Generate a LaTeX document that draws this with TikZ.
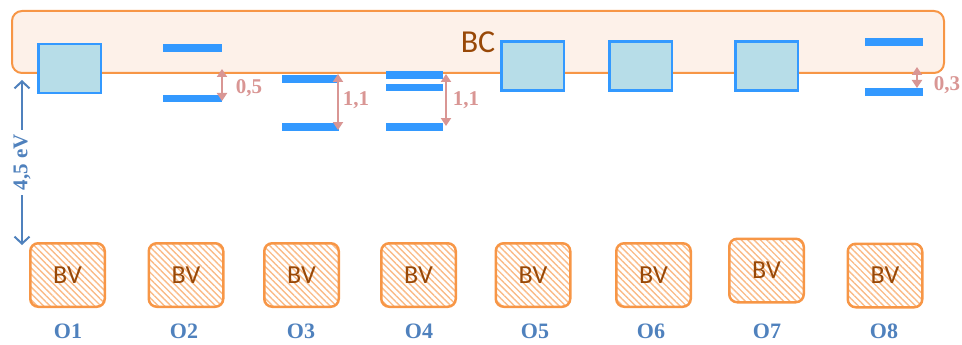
\documentclass[tikz,border=0pt]{standalone}
\usepackage{fontspec}
\setmainfont{Liberation Serif}
\newfontfamily\calib{Carlito}
\usetikzlibrary{arrows.meta,patterns.meta}
\definecolor{orng}{HTML}{F79646}
\definecolor{bcfill}{HTML}{FDF1E9}
\definecolor{brwn}{HTML}{984807}
\definecolor{lvlblue}{HTML}{3399FF}
\definecolor{sqfill}{HTML}{B7DDE8}
\definecolor{eblue}{HTML}{4F81BD}
\definecolor{pnk}{HTML}{D99694}

\begin{document}
\begin{tikzpicture}[x=1pt,y=-1pt,
  bc/.style={draw=orng,fill=bcfill,line width=2pt,rounded corners=10pt,minimum width=932pt,minimum height=62pt,inner sep=0pt,text=brwn,font=\calib\fontsize{32}{32}\selectfont},
  sq/.style={draw=lvlblue,fill=sqfill,line width=2.5pt,minimum width=62.5pt,minimum height=49pt,inner sep=0pt},
  bv/.style={draw=orng,line width=2.5pt,rounded corners=8pt,pattern={Lines[angle=-45,distance=4.5pt,line width=1.4pt]},pattern color=orng!65,minimum width=74.5pt,minimum height=63.5pt,inner sep=0pt,text=brwn,font=\calib\fontsize{26}{26}\selectfont},
  lvl/.style={lvlblue,line width=7.5pt},
  gap/.style={pnk,line width=2pt,{Triangle[width=10pt,length=8pt]}-{Triangle[width=10pt,length=8pt]}},
  gaplbl/.style={pnk,font=\fontsize{21}{21}\selectfont\bfseries,inner sep=0pt},
  olbl/.style={eblue,font=\fontsize{22}{22}\selectfont\bfseries,inner sep=0pt}]
\useasboundingbox (0,0) rectangle (962,345);
\node[bc] (bc) at (478,42) {BC};
\foreach \n/\x/\y in {1/69.5/68.5,5/532.5/66,6/640.5/66,7/766.5/66}
  \node[sq] (sq\n) at (\x,\y) {};
\draw[lvl] (163,48) -- (222,48);
\draw[lvl] (163,98.5) -- (222,98.5);
\draw[lvl] (282,79) -- (339,79);
\draw[lvl] (282,127) -- (339,127);
\draw[lvl] (386,75) -- (443,75);
\draw[lvl] (386,87.5) -- (443,87.5);
\draw[lvl] (386,127) -- (443,127);
\draw[lvl] (865,42) -- (923,42);
\draw[lvl] (865,92) -- (923,92);
\coordinate (g2a) at (222,69); \coordinate (g2b) at (222,101);
\coordinate (g3a) at (338,74); \coordinate (g3b) at (338,130);
\coordinate (g4a) at (446,74); \coordinate (g4b) at (446,126);
\coordinate (g8a) at (917,67); \coordinate (g8b) at (917,88);
\draw[gap] (g2a) -- (g2b);
\draw[gap] (g3a) -- (g3b);
\draw[gap] (g4a) -- (g4b);
\draw[gap] (g8a) -- (g8b);
\node[gaplbl] (v2) at (249,88) {0,5};
\node[gaplbl] (v3) at (356,100) {1,1};
\node[gaplbl] (v4) at (466,100) {1,1};
\node[gaplbl] (v8) at (947,85) {0,3};
\foreach \n/\x/\y in {1/67.5/275,2/186/275,3/301.5/275,4/418.5/275,5/533/275,6/653.5/275,7/766.5/270.5,8/885/275.5}
  \node[bv] (bv\n) at (\x,\y) {BV};
\foreach \n/\x in {1/68,2/184,3/301,4/419,5/535,6/651,7/767,8/884}
  \node[olbl] (o\n) at (\x,331) {O\n};
\coordinate (evtop) at (22,80);
\coordinate (evbot) at (22,245);
\draw[eblue,line width=2pt,{Straight Barb[width=15pt,length=7pt]}-{Straight Barb[width=15pt,length=7pt]}]
  (evtop) -- node[fill=white,rotate=90,inner sep=5pt,font=\fontsize{21}{21}\selectfont\bfseries] (ev) {4,5 eV} (evbot);
\end{tikzpicture}
\end{document}
